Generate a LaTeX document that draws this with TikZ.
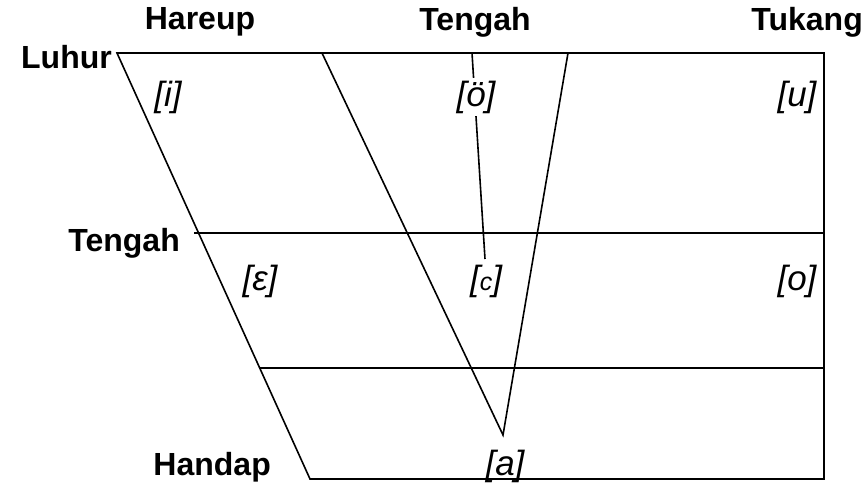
\documentclass[tikz,border=0pt]{standalone}
\usepackage{fontspec}
\setmainfont{Liberation Sans}
\begin{document}
\begin{tikzpicture}[x=1pt,y=-1pt,
  edge/.style={line width=1.6pt, line join=miter},
  head/.style={font=\fontsize{32}{35}\selectfont\bfseries, inner sep=0pt},
  vowel/.style={font=\fontsize{35}{38}\selectfont\itshape, inner sep=1pt},
  gapvowel/.style={vowel, fill=white, inner sep=3pt}]
\useasboundingbox (0,0) rectangle (864,484);
% corners
\coordinate (tl) at (117,53);
\coordinate (tr) at (824,53);
\coordinate (br) at (824,479);
\coordinate (bl) at (310,479);
\coordinate (m1l) at (194,233);
\coordinate (m1r) at (824,233);
\coordinate (m2l) at (260,368);
\coordinate (m2r) at (824,368);
\coordinate (vl) at (322,53);
\coordinate (vr) at (568,53);
\coordinate (apex) at (503,435);
\coordinate (ct) at (472,53);
\coordinate (cb) at (485,259);
% frame
\draw[edge] (tl) -- (tr) -- (br) -- (bl) -- cycle;
\draw[edge] (m1l) -- (m1r);
\draw[edge] (m2l) -- (m2r);
\draw[edge] (vl) -- (apex) -- (vr);
\draw[edge] (ct) -- (cb);
% headings
\node[head] (hareup) at (200,22) {Hareup};
\node[head] (tengahT) at (475,22) {Tengah};
\node[head, anchor=east] (tukang) at (863,22) {Tukang};
\node[head, anchor=east] (luhur) at (112,57) {Luhur};
\node[head, anchor=east] (tengahL) at (180,243) {Tengah};
\node[head, anchor=east] (handap) at (271,467) {Handap};
% vowels
\node[vowel] (vi) at (168,97) {[i]};
\node[gapvowel] (vo) at (476,97) {[ö]};
\node[vowel] (vu) at (797,97) {[u]};
\node[vowel] (ve) at (260,281) {[ɛ]};
\node[vowel] (vc) at (486,281) {[{\fontsize{25}{28}\selectfont c}]};
\node[vowel] (voo) at (797,281) {[o]};
\node[vowel] (va) at (505,466) {[a]};
\end{tikzpicture}
\end{document}
